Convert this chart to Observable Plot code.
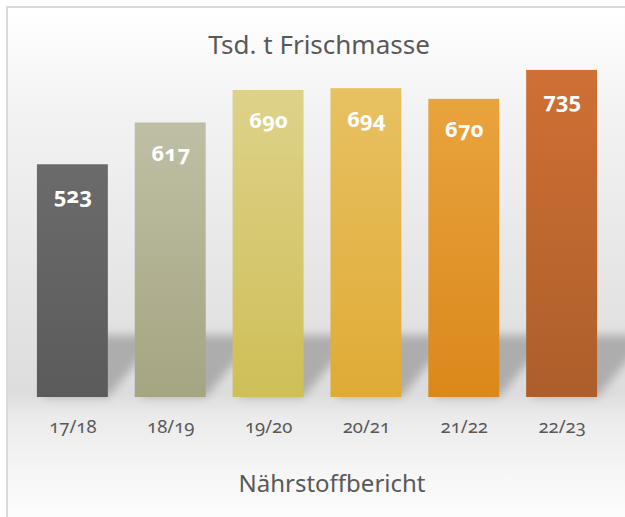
<!DOCTYPE html>
<html>
<head>
<meta charset="utf-8">
<script src="https://cdn.jsdelivr.net/npm/d3@7"></script>
<script src="https://cdn.jsdelivr.net/npm/@observablehq/plot@0.6"></script>
<style>
  html, body { margin: 0; padding: 0; background: #fff; }
  #wrap { position: relative; width: 625px; height: 517px; overflow: hidden; font-family: "Noto Sans", "Open Sans", sans-serif; }
  #frame { position: absolute; left: 6px; top: 6px; width: 700px; height: 600px;
    border-left: 2px solid #d9d9d9; border-top: 2px solid #d9d9d9;
    background: linear-gradient(to bottom, #ffffff 0px, #f3f3f3 100px, #e4e4e4 290px, #dddddd 385px, #ebebeb 410px, #f6f6f6 465px, #fdfdfd 511px); }
  #title { position: absolute; left: 0; width: 638px; top: 31px; line-height: 1; text-align: center; font-size: 26px; color: #595959; white-space: nowrap; }
  #caption { position: absolute; left: 0; width: 664px; top: 471px; line-height: 1; text-align: center; font-size: 24px; color: #595959; white-space: nowrap; }
  #chart { position: absolute; left: 0; top: 0; }
  svg { font-variant-numeric: oldstyle-nums; }
  #title, #caption { font-variant-numeric: oldstyle-nums; }
</style>
</head>
<body>
<div id="wrap">
  <div id="frame"></div>
  <div id="chart"></div>
  <div id="title">Tsd. t Frischmasse</div>
  <div id="caption">Nährstoffbericht</div>
</div>
<script>
const seasons = ["17/18", "18/19", "19/20", "20/21", "21/22", "22/23"];
const values = [523, 617, 690, 694, 670, 735];
const topColors = ["#6b6b6b", "#bfbfa5", "#ddd289", "#e8c162", "#e9a33e", "#cf7035"];
const bottomColors = ["#5b5b5b", "#a5a582", "#cfbf58", "#dfab35", "#db881a", "#ad5e2a"];

const data = seasons.map((s, i) => ({season: s, value: values[i], idx: i}));

const chart = Plot.plot({
  width: 625,
  height: 517,
  marginTop: 41,
  marginBottom: 120,
  marginLeft: 10,
  marginRight: 1,
  style: {background: "transparent", fontFamily: "'Noto Sans', 'Open Sans', sans-serif"},
  x: {domain: seasons, padding: 0.275, round: false, label: null},
  y: {domain: [0, 800], axis: null},
  marks: [
    Plot.barY(data, {x: "season", y: "value", fill: (d) => topColors[d.idx]}),
    Plot.axisX({tickSize: 0, tickPadding: 22, fontSize: 18.5, color: "#595959", label: null}),
    Plot.text(data, {x: "season", y: "value", text: (d) => String(d.value), dy: 31,
      fill: "white", fontWeight: "bold", fontSize: 22})
  ]
});

document.getElementById("chart").appendChild(chart);

// gradients and shadows (styling)
const svg = d3.select(chart);
const defs = svg.insert("defs", ":first-child");
topColors.forEach((c, i) => {
  const g = defs.append("linearGradient").attr("id", "grad" + i)
    .attr("x1", 0).attr("y1", 0).attr("x2", 0).attr("y2", 1);
  g.append("stop").attr("offset", "0%").attr("stop-color", c);
  g.append("stop").attr("offset", "100%").attr("stop-color", bottomColors[i]);
});
const f = defs.append("filter").attr("id", "blur").attr("x", "-50%").attr("y", "-50%").attr("width", "200%").attr("height", "200%");
f.append("feGaussianBlur").attr("stdDeviation", 5);

const rects = svg.selectAll("g[aria-label='bar'] rect");
rects.attr("fill", (d, i) => `url(#grad${i})`);

const barGroup = svg.select("g[aria-label='bar']").node();
const shadowG = svg.insert("g", () => barGroup).attr("filter", "url(#blur)");
rects.each(function() {
  const r = d3.select(this);
  const x = +r.attr("x"), w = +r.attr("width");
  const base = +r.attr("y") + +r.attr("height");
  const h = 62;
  shadowG.append("rect")
    .attr("x", x + 4).attr("width", w - 4)
    .attr("y", base - h).attr("height", h)
    .attr("fill", "#a0a0a0").attr("opacity", 0.8)
    .attr("transform", `translate(0,${base}) skewX(-40) translate(0,${-base})`);
});
</script>
</body>
</html>
